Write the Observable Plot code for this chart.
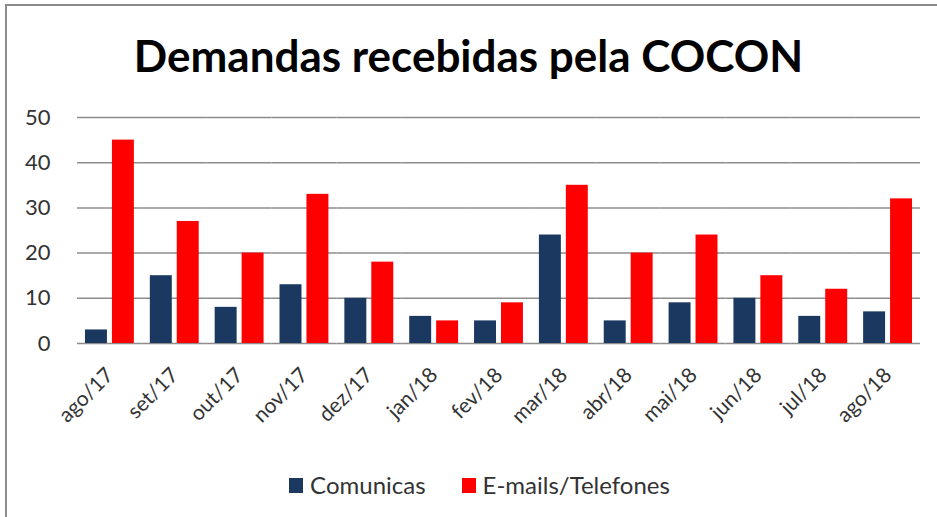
<!DOCTYPE html>
<html>
<head>
<meta charset="utf-8">
<script src="https://cdn.jsdelivr.net/npm/d3@7"></script>
<script src="https://cdn.jsdelivr.net/npm/@observablehq/plot@0.6"></script>
<style>
  html, body { margin: 0; padding: 0; background: #fff; width: 937px; height: 517px; overflow: hidden; font-family: "Lato", "Open Sans", sans-serif; }
  #frame { position: absolute; left: 5px; top: 4px; width: 940px; height: 530px; border: 2px solid #8c8c8c; box-sizing: border-box; }
  #title { position: absolute; left: 0; top: 28px; width: 937px; text-align: center; font-weight: bold; font-size: 44px; color: #000; line-height: 54px; }
  #chart { position: absolute; left: 0; top: 100px; }
  #legend { position: absolute; left: 11px; top: 469px; width: 937px; display: flex; justify-content: center; gap: 36px; font-size: 24px; color: #333; line-height: 32px; }
  #legend span.item { display: flex; align-items: center; gap: 7px; }
  #legend span.sw { display: inline-block; width: 14px; height: 15px; }
</style>
</head>
<body>
<div id="frame"></div>
<div id="title">Demandas recebidas pela COCON</div>
<div id="chart"></div>
<div id="legend"></div>
<script>
const months = ["ago/17","set/17","out/17","nov/17","dez/17","jan/18","fev/18","mar/18","abr/18","mai/18","jun/18","jul/18","ago/18"];
const comunicas = [3,15,8,13,10,6,5,24,5,9,10,6,7];
const emails = [45,27,20,33,18,5,9,35,20,24,15,12,32];
const seriesNames = ["Comunicas","E-mails/Telefones"];
const seriesColors = ["#1b3860","#ff0000"];
const yTicks = [0,10,20,30,40,50];

const data = months.flatMap((m, i) => [
  {month: m, series: seriesNames[0], value: comunicas[i]},
  {month: m, series: seriesNames[1], value: emails[i]}
]);

const chart = Plot.plot({
  width: 937,
  height: 370,
  marginTop: 17,
  marginLeft: 77,
  marginRight: 17,
  marginBottom: 127,
  style: {fontFamily: "Lato, 'Open Sans', sans-serif", fontSize: "22px", color: "#333", background: "transparent"},
  fx: {domain: months, paddingInner: 0, paddingOuter: 0, round: false, label: null, tickRotate: -45, tickSize: 0, tickPadding: 28, axis: "bottom"},
  x: {domain: seriesNames, axis: null, round: false, paddingInner: 0.185, paddingOuter: 0.296},
  y: {domain: [0, 50], ticks: yTicks, tickSize: 0, tickPadding: 27, label: null},
  color: {domain: seriesNames, range: seriesColors},
  marks: [
    Plot.gridY(yTicks, {stroke: "#8c8c8c", strokeOpacity: 1, strokeWidth: 1.5}),
    Plot.barY(data, {fx: "month", x: "series", y: "value", fill: "series"})
  ]
});
chart.querySelectorAll("g[aria-label='fx-axis tick label']").forEach(el => el.setAttribute("font-size", "21"));
document.getElementById("chart").appendChild(chart);

const legend = document.getElementById("legend");
seriesNames.forEach((s, i) => {
  const item = document.createElement("span");
  item.className = "item";
  const sw = document.createElement("span");
  sw.className = "sw";
  sw.style.background = seriesColors[i];
  item.appendChild(sw);
  item.appendChild(document.createTextNode(s));
  legend.appendChild(item);
});
</script>
</body>
</html>
